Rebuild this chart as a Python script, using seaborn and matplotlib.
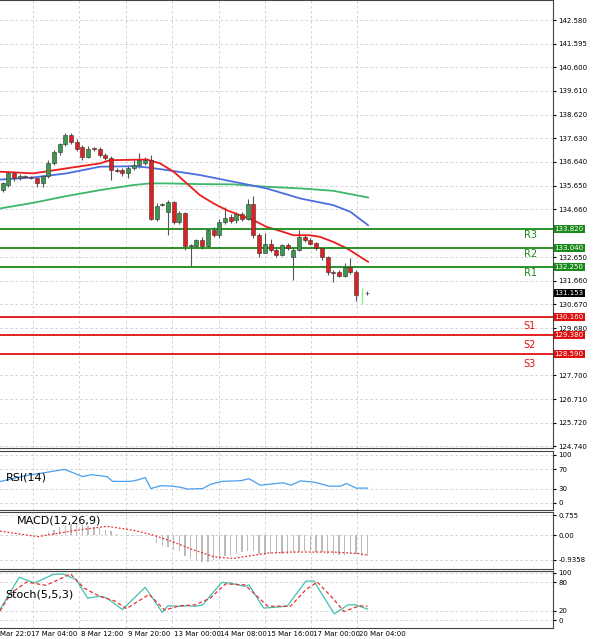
import matplotlib
matplotlib.use("Agg")
import matplotlib.pyplot as plt
import seaborn as sns
import numpy as np
import pandas as pd

opens = [135.46,135.67,136.16,135.95,136.04,135.99,135.95,135.74,136.04,136.60,137.06,137.38,137.76,137.48,137.27,136.85,137.20,137.20,136.95,136.81,136.32,136.32,136.16,136.37,136.51,136.58,136.74,134.27,134.83,134.55,134.97,134.13,134.51,133.11,133.11,133.36,133.11,133.78,133.57,134.13,134.34,134.20,134.44,134.23,134.87,133.57,132.83,133.22,132.95,132.74,133.15,132.67,132.95,133.50,133.39,133.25,133.02,132.67,132.04,132.04,131.86,132.25,132.04,131.13,131.16]
closes = [135.74,136.16,135.95,136.06,135.99,135.98,135.74,136.04,136.60,137.06,137.38,137.76,137.48,137.20,136.85,137.20,137.19,136.92,136.81,136.30,136.27,136.16,136.37,136.51,136.71,136.74,134.27,134.79,134.84,134.97,134.13,134.51,133.11,133.15,133.36,133.11,133.78,133.57,134.13,134.31,134.17,134.44,134.23,134.87,133.57,132.83,133.22,132.95,132.74,133.15,133.02,132.95,133.50,133.36,133.20,133.02,132.64,132.04,132.00,131.86,132.25,132.04,131.06,131.16,131.13]
highs = [135.80,136.25,136.20,136.12,136.08,136.05,136.00,136.10,136.70,137.15,137.45,137.85,137.85,137.60,137.35,137.30,137.25,137.25,137.00,136.90,136.40,136.40,136.45,136.70,137.00,136.85,136.95,134.90,134.90,135.05,135.00,134.60,134.55,133.20,133.40,133.50,133.85,133.90,134.25,134.75,134.45,134.55,134.55,135.10,135.20,133.65,133.65,133.40,133.05,133.20,133.25,133.05,133.80,133.60,133.45,133.30,133.05,132.70,132.10,132.10,132.40,132.60,132.10,131.35,131.25]
lows = [135.40,135.60,135.85,135.90,135.95,135.93,135.60,135.60,135.95,136.50,136.95,137.30,137.40,137.10,136.70,136.80,137.10,136.85,136.70,135.90,136.20,136.05,135.95,136.30,136.40,136.50,134.20,134.15,134.78,133.60,134.05,134.05,132.95,132.28,133.05,133.00,133.05,133.50,133.45,134.05,134.10,134.10,134.15,134.20,133.45,132.65,132.90,132.85,132.65,132.70,132.95,131.70,132.90,133.30,133.15,132.95,132.55,131.90,131.60,131.80,131.80,131.95,130.80,130.70,131.08]

ma_red_x = [-0.47,5.4,11.2,17.1,18.8,25.3,27.6,30,32.3,34.6,37,39.3,41.6,44,46.3,49.2,51,53.9,55.7,58,60.4,62.7,64.1]
ma_red_y = [136.23,136.16,136.37,136.58,136.71,136.74,136.58,136.23,135.74,135.25,134.90,134.62,134.41,134.20,133.92,133.71,133.57,133.57,133.50,133.29,133.02,132.67,132.46]
ma_blue_x = [-0.47,5.4,11.2,17.1,22.9,25.3,28.8,34.6,40.5,46.3,52.2,58,61,64.1]
ma_blue_y = [135.90,135.99,136.16,136.44,136.46,136.41,136.30,136.09,135.81,135.53,135.11,134.83,134.55,133.99]
ma_green_x = [-0.47,5.4,11.2,17.1,22.9,25.8,28.8,34.6,40.5,46.3,52.2,58,64.1]
ma_green_y = [134.69,134.93,135.21,135.46,135.67,135.74,135.74,135.71,135.70,135.60,135.53,135.43,135.15]

res_levels = [133.82, 133.04, 132.25]
res_names = ["R3", "R2", "R1"]
sup_levels = [130.16, 129.38, 128.59]
sup_names = ["S1", "S2", "S3"]
last_price = 131.153

price_ticks = [142.580,141.595,140.600,139.610,138.620,137.630,136.640,135.650,134.660,132.650,131.660,130.670,129.680,127.700,126.710,125.720,124.740]

rsi_x = [-0.47,3.6,10.9,14,15.6,18.3,19.3,22.4,23.7,25,26,27.7,29.7,31.1,32.4,35.1,36.5,38.5,41.8,43.2,45.2,47.9,49.2,50.6,52.2,54.6,57.3,59.3,60.3,62,64]
rsi_y = [44.7,56,70,55,59,55,45,45,48,53,30,36,35,33,29,30,39,45,46.5,50.6,37,40.6,42,37,46,43.5,35,35,40.6,31,31]

macd_hist = [0.0,0.0,0.02,0.03,0.02,0.0,0.0,0.05,0.1,0.2,0.3,0.35,0.4,0.4,0.38,0.35,0.3,0.25,0.2,0.15,0.05,0.0,-0.05,-0.05,-0.02,0.0,-0.05,-0.3,-0.4,-0.45,-0.55,-0.6,-0.8,-0.9,-0.95,-1.0,-1.0,-0.95,-0.9,-0.8,-0.75,-0.7,-0.65,-0.6,-0.6,-0.7,-0.75,-0.7,-0.7,-0.72,-0.7,-0.68,-0.65,-0.6,-0.6,-0.62,-0.65,-0.7,-0.75,-0.75,-0.75,-0.7,-0.7,-0.8,-0.8]
sig_x = [-0.47,6.2,12.9,18.3,23,26.4,29.7,33.1,37.1,40.5,46.5,50.5,57.9,62.6,64]
sig_y = [0.15,-0.06,0.18,0.33,0.18,0.0,-0.24,-0.53,-0.82,-0.88,-0.68,-0.64,-0.64,-0.70,-0.76]

st_x = [-0.47,2.9,5.6,8.9,10.6,12.9,14.9,17,18.3,21,25,28,29,31.1,32.4,33.8,35.1,38.4,39.8,42.5,43.2,45.8,47.8,49.9,51.2,53.2,54.6,56.6,58.2,60.6,61.9,64]
st_k = [23,91,79,97,98,86,47,51,47,23,70,17,31,30,31,30,33,80,79,72,75,26,28,30,51,83,83,44,14,33,33,24]
sd_x = [-0.47,1.5,4.2,7.6,11.9,14.3,17,19.7,21.7,25.7,28.4,31.1,33.8,36.4,39.1,42.5,46.5,50.5,53.2,55.2,57.9,59.9,62.6,64]
st_d = [20,58,81,74,98,68,51,41,25,55,22,31,33,47,77,75,30,30,65,81,47,19,31,30]

date_pos = [5.3, 13.4, 21.6, 29.7, 37.9, 46.0, 54.1, 62.2]
date_labels = ["7 Mar 04:00","8 Mar 12:00","9 Mar 20:00","13 Mar 00:00","14 Mar 08:00","15 Mar 16:00","17 Mar 00:00","20 Mar 04:00"]

W, H = 600, 639
fig = plt.figure(figsize=(6, 6.39), dpi=100)
def mk(top, bottom):
    return fig.add_axes([0, 1 - bottom / H, 553 / W, (bottom - top) / H])
ax = mk(0, 448)
ax_rsi = mk(451, 510)
ax_macd = mk(512, 569)
ax_st = mk(571, 628)
XL = (-0.47, -0.47 + 553 / 5.7)
grid_kw = dict(color="#cccccc", linestyle=(0, (3, 3)), linewidth=0.6)
for a in (ax, ax_rsi, ax_macd, ax_st):
    a.set_xlim(*XL)
    a.set_xticks(date_pos)
    a.set_xticklabels([])
    a.tick_params(axis="x", length=0)
    a.yaxis.tick_right()
    a.tick_params(axis="y", labelsize=5, length=2, pad=2, colors="black")
    a.grid(True, **grid_kw)
    a.set_axisbelow(True)
    for s in a.spines.values():
        s.set_color("#444444"); s.set_linewidth(0.8)
    a.spines["left"].set_visible(False)

idx = np.arange(len(opens))
up_col, dn_col = "#3a9a4a", "#e02020"
for i in idx:
    o, c = opens[i], closes[i]
    col = up_col if c >= o else dn_col
    if i == 63:
        ax.vlines(i, lows[i], highs[i], color="#90ee90", linewidth=1)
        continue
    ax.vlines(i, lows[i], highs[i], color="#555555", linewidth=0.8, zorder=2)
    ax.bar(i, max(abs(c - o), 0.03), bottom=min(o, c), width=0.7, color=col,
           edgecolor="#333333", linewidth=0.4, zorder=3)

sns.lineplot(x=ma_green_x, y=ma_green_y, ax=ax, color="#3cb86a", linewidth=1.3)
sns.lineplot(x=ma_blue_x, y=ma_blue_y, ax=ax, color="#4a6ee0", linewidth=1.3)
sns.lineplot(x=ma_red_x, y=ma_red_y, ax=ax, color="#ee1c1c", linewidth=1.3)

tr = ax.get_yaxis_transform()
for lv, nm in zip(res_levels, res_names):
    ax.axhline(lv, color="#1a8a1a", linewidth=1.3)
    ax.text(0.947, lv - 0.25, nm, transform=tr, color="#1a8a1a", fontsize=7, va="center")
    ax.text(1.003, lv, f"{lv:.3f}", transform=tr, fontsize=5, color="white", va="center",
            bbox=dict(boxstyle="square,pad=0.15", fc="#1a8a1a", ec="none"), clip_on=False, zorder=10)
for lv, nm in zip(sup_levels, sup_names):
    ax.axhline(lv, color="#e01010", linewidth=1.3)
    ax.text(0.947, lv - 0.4, nm, transform=tr, color="#e01010", fontsize=7, va="center")
    ax.text(1.003, lv, f"{lv:.3f}", transform=tr, fontsize=5, color="white", va="center",
            bbox=dict(boxstyle="square,pad=0.15", fc="#e01010", ec="none"), clip_on=False, zorder=10)
ax.text(1.003, last_price, f"{last_price:.3f}", transform=tr, fontsize=5, color="white", va="center",
        bbox=dict(boxstyle="square,pad=0.15", fc="black", ec="none"), clip_on=False, zorder=10)
ax.set_ylim(124.66, 143.42)
ax.set_yticks(price_ticks)
ax.set_yticklabels([f"{t:.3f}" for t in price_ticks])

sns.lineplot(x=rsi_x, y=rsi_y, ax=ax_rsi, color="#4a9ef0", linewidth=0.9)
ax_rsi.set_ylim(-14.6, 108.3)
ax_rsi.set_yticks([0, 30, 70, 100])
ax_rsi.text(0.01, 0.55, "RSI(14)", transform=ax_rsi.transAxes, fontsize=8, va="center")

ax_macd.bar(idx, macd_hist, width=0.25, color="#bbbbbb")
sns.lineplot(x=sig_x, y=sig_y, ax=ax_macd, color="#e83030", linewidth=0.9, linestyle=(0, (1.5, 1.5)))
ax_macd.set_ylim(-1.28, 0.87)
ax_macd.set_yticks([-0.9358, 0.0, 0.755])
ax_macd.set_yticklabels(["-0.9358", "0.00", "0.755"])
ax_macd.text(0.03, 0.85, "MACD(12,26,9)", transform=ax_macd.transAxes, fontsize=8, va="center")

sns.lineplot(x=st_x, y=st_k, ax=ax_st, color="#40c0b0", linewidth=0.9)
sns.lineplot(x=sd_x, y=st_d, ax=ax_st, color="#e83030", linewidth=0.9, linestyle=(0, (3, 2)))
ax_st.set_ylim(-15.8, 104.2)
ax_st.set_yticks([0, 20, 80, 100])
ax_st.text(0.01, 0.58, "Stoch(5,5,3)", transform=ax_st.transAxes, fontsize=8, va="center")

for a in (ax, ax_rsi, ax_macd, ax_st):
    a.set_xlabel(""); a.set_ylabel("")
for p, l in zip(date_pos, date_labels):
    ax_st.text(p + 0.3, -0.05, l, transform=ax_st.get_xaxis_transform(), fontsize=5, va="top", ha="left")
ax_st.text(-0.47, -0.05, "Mar 22:01", transform=ax_st.get_xaxis_transform(), fontsize=5, va="top", ha="left")

fig.savefig("out.png", dpi=100)
